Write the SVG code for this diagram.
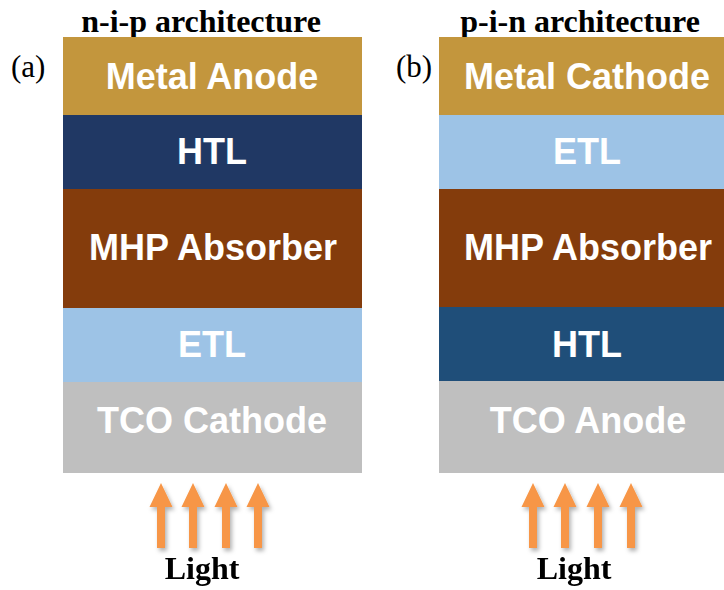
<svg xmlns="http://www.w3.org/2000/svg" width="724" height="590" viewBox="0 0 724 590">
<style>
.hdr{font-family:"Liberation Serif","Times New Roman",serif;font-weight:bold;font-size:32px;fill:#000;text-anchor:middle}
.tag{font-family:"Liberation Serif","Times New Roman",serif;font-size:31px;fill:#000}
.lbl{font-family:"Liberation Sans",Arial,sans-serif;font-weight:bold;font-size:36px;fill:#fff;text-anchor:middle}
.arr{fill:#F79646}
</style>
<defs>
<filter id="sh" x="-50%" y="-20%" width="200%" height="150%">
<feDropShadow dx="2" dy="3" stdDeviation="2" flood-color="#000" flood-opacity="0.3"/>
</filter>
<path id="ar" d="M-4,548 L-4,507 L-11.5,507 L0,483 L11.5,507 L4,507 L4,548 Z"/>
</defs>
<rect width="724" height="590" fill="#fff"/>
<g id="a-stack">
<text class="hdr" x="201" y="32">n-i-p architecture</text>
<text class="tag" x="11" y="77">(a)</text>
<g id="a-metal"><rect x="63" y="37" width="299" height="78" fill="#C3963D"/><text class="lbl" x="212" y="89">Metal Anode</text></g>
<g id="a-htl"><rect x="63" y="115" width="299" height="74" fill="#203864"/><text class="lbl" x="212" y="164">HTL</text></g>
<g id="a-mhp"><rect x="63" y="189" width="299" height="119" fill="#843C0C"/><text class="lbl" x="213" y="260">MHP Absorber</text></g>
<g id="a-etl"><rect x="63" y="308" width="299" height="74" fill="#9DC3E6"/><text class="lbl" x="212" y="357">ETL</text></g>
<g id="a-tco"><rect x="63" y="382" width="299" height="91" fill="#BFBFBF"/><text class="lbl" x="212" y="433">TCO Cathode</text></g>
</g>
<g id="b-stack">
<text class="hdr" x="580" y="32">p-i-n architecture</text>
<text class="tag" x="396" y="77">(b)</text>
<g id="b-metal"><rect x="439" y="37" width="285" height="78" fill="#C3963D"/><text class="lbl" x="587" y="89">Metal Cathode</text></g>
<g id="b-etl"><rect x="439" y="115" width="285" height="74" fill="#9DC3E6"/><text class="lbl" x="587" y="164">ETL</text></g>
<g id="b-mhp"><rect x="439" y="189" width="285" height="118" fill="#843C0C"/><text class="lbl" x="588" y="260">MHP Absorber</text></g>
<g id="b-htl"><rect x="439" y="307" width="285" height="74" fill="#1F4E79"/><text class="lbl" x="587" y="357">HTL</text></g>
<g id="b-tco"><rect x="439" y="381" width="285" height="92" fill="#BFBFBF"/><text class="lbl" x="588" y="433">TCO Anode</text></g>
</g>
<g id="connectors" filter="url(#sh)">
<use href="#ar" class="arr" x="161"/>
<use href="#ar" class="arr" x="193"/>
<use href="#ar" class="arr" x="226"/>
<use href="#ar" class="arr" x="258"/>
<use href="#ar" class="arr" x="533"/>
<use href="#ar" class="arr" x="565"/>
<use href="#ar" class="arr" x="598"/>
<use href="#ar" class="arr" x="631"/>
</g>
<text class="hdr" x="202" y="579">Light</text>
<text class="hdr" x="574" y="579">Light</text>
</svg>
